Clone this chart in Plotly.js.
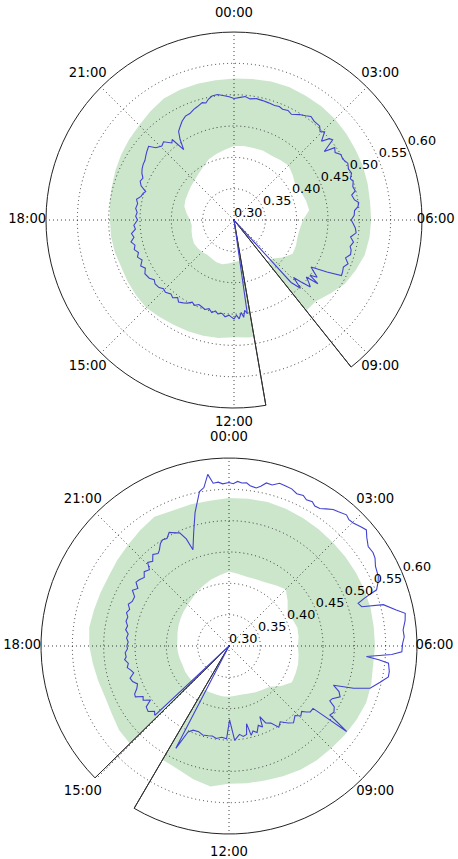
<!DOCTYPE html>
<html><head><meta charset="utf-8">
<script src="https://cdn.plot.ly/plotly-3.0.1.min.js"></script>
<style>html,body{margin:0;padding:0;background:#fff}#chart{width:458px;height:859px}</style>
</head><body><div id="chart"></div>
<script>
// ---- shared axis data ----
const hourTicks = [0, 3, 6, 9, 12, 15, 18, 21];
const hourLabels = ['00:00','03:00','06:00','09:00','12:00','15:00','18:00','21:00'];
const radialTicks = [0.30, 0.35, 0.40, 0.45, 0.50, 0.55, 0.60];
const radialRange = [0.30, 0.60];
const labelRange = [0.30, 0.64];   // wider radial range of the label layer
const radialLabelHour = 4.5;       // radial tick labels drawn along the 04:30 direction
const topHourLabelR = [0.630, 0.630, 0.622, 0.630, 0.623, 0.630, 0.630, 0.630];
const botHourLabelR = [0.632, 0.630, 0.628, 0.630, 0.630, 0.630, 0.630, 0.630];

// ---- top panel ----
const topGap = [9.43, 11.35];   // missing sector [start, end] in hours (clockwise)
const topBandHours = [11.35, 11.5, 12, 12.5, 13, 13.5, 14, 14.5, 15, 15.5, 16, 16.5, 17, 17.5, 18, 18.5, 19, 19.5, 20, 20.5, 21, 21.5, 22, 22.5, 23, 23.5,
  0, 0.5, 1, 1.5, 2, 2.5, 3, 3.5, 4, 4.5, 5, 5.5, 6, 6.5, 7, 7.5, 8, 8.5, 9, 9.43];
const topBandUpper = [0.488, 0.489, 0.487, 0.490, 0.491, 0.492, 0.493, 0.495, 0.498, 0.497, 0.496, 0.495, 0.497, 0.498, 0.498, 0.500, 0.502, 0.505, 0.508, 0.511, 0.514, 0.519, 0.524, 0.525, 0.525, 0.525,
  0.526, 0.527, 0.529, 0.530, 0.529, 0.529, 0.528, 0.526, 0.524, 0.523, 0.521, 0.519, 0.519, 0.518, 0.516, 0.510, 0.504, 0.493, 0.484, 0.485];
const topBandLower = [0.368, 0.366, 0.367, 0.370, 0.373, 0.373, 0.371, 0.370, 0.372, 0.373, 0.374, 0.372, 0.370, 0.368, 0.370, 0.376, 0.382, 0.384, 0.385, 0.387, 0.389, 0.393, 0.398, 0.405, 0.409, 0.413,
  0.418, 0.419, 0.419, 0.420, 0.419, 0.421, 0.423, 0.418, 0.413, 0.416, 0.419, 0.421, 0.410, 0.406, 0.405, 0.407, 0.408, 0.398, 0.387, 0.385];
const topLineHours = [11.35, 11.46, 11.55, 11.62, 11.7, 11.8, 11.9, 12.0, 12.1, 12.2, 12.35, 12.5, 12.65, 12.77, 12.9, 13.05, 13.2, 13.33, 13.5, 13.65, 13.8, 13.95,
  14.1, 14.27, 14.4, 14.55, 14.7, 14.9, 15.05, 15.2, 15.4, 15.55, 15.7, 15.93, 16.1, 16.25, 16.43, 16.6, 16.75, 16.9, 17.05, 17.2, 17.35, 17.5, 17.65, 17.8,
  18.0, 18.15, 18.3, 18.45, 18.64, 18.8, 18.95, 19.1, 19.19, 19.35, 19.5, 19.65, 19.8, 19.95, 20.1, 20.25, 20.4, 20.55, 20.72, 20.85, 21.05, 21.2, 21.41, 21.5,
  21.63, 21.75, 21.87, 22.0, 22.15, 22.33, 22.5, 22.67, 22.8, 22.99, 23.1, 23.2, 23.33, 23.5, 23.7, 23.85,
  0.0, 0.2, 0.35, 0.5, 0.7, 0.9, 1.1, 1.3, 1.45, 1.58, 1.75, 1.9, 2.12, 2.3, 2.44, 2.6, 2.82, 2.95, 3.05, 3.2, 3.3, 3.39, 3.52, 3.62, 3.75, 3.9, 4.05, 4.23,
  4.4, 4.55, 4.7, 4.8, 4.95, 5.1, 5.2, 5.37, 5.47, 5.59, 5.7, 5.85, 6.0, 6.1, 6.25, 6.4, 6.55, 6.7, 6.85, 6.96, 7.1, 7.25, 7.4, 7.55, 7.7, 7.82, 7.95, 8.09,
  8.2, 8.3, 8.4, 8.48, 8.55, 8.65, 8.75, 8.85, 8.93, 9.05, 9.17, 9.43];
const topLineValues = [0.300, 0.451, 0.445, 0.456, 0.448, 0.458, 0.452, 0.458, 0.455, 0.452, 0.455, 0.450, 0.452, 0.448, 0.452, 0.447, 0.450, 0.448, 0.446, 0.450, 0.447, 0.452,
  0.455, 0.458, 0.453, 0.458, 0.455, 0.459, 0.457, 0.461, 0.462, 0.459, 0.464, 0.466, 0.461, 0.466, 0.460, 0.465, 0.461, 0.466, 0.463, 0.468, 0.462, 0.465, 0.458, 0.460,
  0.454, 0.457, 0.455, 0.458, 0.456, 0.459, 0.453, 0.451, 0.448, 0.458, 0.462, 0.460, 0.465, 0.468, 0.470, 0.471, 0.474, 0.477, 0.480, 0.470, 0.465, 0.468, 0.458, 0.462,
  0.438, 0.455, 0.467, 0.472, 0.478, 0.483, 0.484, 0.488, 0.490, 0.494, 0.492, 0.497, 0.501, 0.502, 0.499, 0.497,
  0.494, 0.496, 0.498, 0.495, 0.497, 0.496, 0.495, 0.494, 0.495, 0.493, 0.495, 0.492, 0.498, 0.502, 0.506, 0.503, 0.503, 0.497, 0.502, 0.488, 0.500, 0.503, 0.481, 0.498, 0.494, 0.500, 0.499, 0.503,
  0.500, 0.502, 0.497, 0.500, 0.497, 0.499, 0.492, 0.495, 0.501, 0.499, 0.493, 0.492, 0.487, 0.490, 0.494, 0.496, 0.488, 0.494, 0.490, 0.493, 0.494, 0.488, 0.495, 0.490, 0.492, 0.493, 0.470, 0.444,
  0.452, 0.461, 0.450, 0.468, 0.447, 0.455, 0.462, 0.445, 0.432, 0.452, 0.435, 0.300];

// ---- bottom panel ----
const botGap = [14.02, 15.03];
const botBandHours = [15.03, 15.5, 16, 16.5, 17, 17.5, 18, 18.5, 19, 19.5, 20, 20.5, 21, 21.5, 22, 22.5, 23, 23.5,
  0, 0.5, 1, 1.5, 2, 2.5, 3, 3.5, 4, 4.5, 5, 5.5, 6, 6.5, 7, 7.5, 8, 8.5, 9, 9.5, 10, 10.5, 11, 11.5, 12, 12.5, 13, 13.5, 14.02];
const botBandUpper = [0.522, 0.521, 0.516, 0.514, 0.516, 0.519, 0.523, 0.525, 0.523, 0.522, 0.522, 0.525, 0.528, 0.533, 0.538, 0.534, 0.534, 0.534,
  0.536, 0.537, 0.538, 0.537, 0.536, 0.535, 0.534, 0.534, 0.534, 0.534, 0.534, 0.533, 0.533, 0.532, 0.535, 0.537, 0.535, 0.533, 0.531, 0.530, 0.528, 0.525, 0.522, 0.521, 0.520, 0.526, 0.520, 0.513, 0.510];
const botBandLower = [0.381, 0.381, 0.381, 0.380, 0.381, 0.382, 0.383, 0.383, 0.385, 0.387, 0.389, 0.391, 0.393, 0.396, 0.401, 0.405, 0.410, 0.414,
  0.419, 0.416, 0.414, 0.415, 0.417, 0.422, 0.428, 0.418, 0.408, 0.410, 0.413, 0.412, 0.410, 0.412, 0.414, 0.415, 0.416, 0.405, 0.392, 0.388, 0.385, 0.382, 0.380, 0.380, 0.381, 0.381, 0.380, 0.380, 0.380];
const botLineHours = [15.03, 15.13, 15.25, 15.4, 15.58, 15.7, 15.85, 15.97, 16.1, 16.2, 16.35, 16.5, 16.65, 16.8, 16.95, 17.07, 17.2, 17.35, 17.5, 17.6, 17.75, 17.9,
  18.0, 18.15, 18.3, 18.45, 18.6, 18.75, 18.9, 19.07, 19.2, 19.35, 19.5, 19.65, 19.84, 20.0, 20.15, 20.3, 20.43, 20.6, 20.75, 20.92, 21.05, 21.2, 21.35, 21.5,
  21.6, 21.75, 21.87, 22.0, 22.15, 22.3, 22.43, 22.55, 22.63, 22.85, 23.05, 23.28, 23.4, 23.53, 23.63, 23.75, 23.85,
  0.0, 0.1, 0.2, 0.3, 0.41, 0.5, 0.65, 0.75, 0.86, 1.0, 1.15, 1.3, 1.45, 1.6, 1.75, 1.86, 2.0, 2.1, 2.23, 2.35, 2.49, 2.6, 2.79, 2.9, 3.02, 3.2, 3.32, 3.45,
  3.63, 3.8, 3.93, 4.1, 4.33, 4.45, 4.61, 4.7, 4.78, 4.9, 5.0, 5.19, 5.3, 5.45, 5.65, 5.8, 5.95, 6.13, 6.2, 6.29, 6.35, 6.41, 6.6, 6.73, 6.9, 7.11, 7.25, 7.37,
  7.5, 7.64, 7.8, 7.9, 8.0, 8.15, 8.29, 8.4, 8.44, 8.6, 8.7, 8.8, 8.95, 9.1, 9.33, 9.5, 9.73, 9.9, 10.1, 10.3, 10.43, 10.5, 10.65, 10.8, 10.95, 11.07, 11.15,
  11.25, 11.4, 11.55, 11.77, 11.97, 12.1, 12.3, 12.52, 12.7, 12.87, 13.1, 13.3, 13.54, 13.7, 13.83, 14.02];
const botLineValues = [0.300, 0.462, 0.458, 0.466, 0.464, 0.452, 0.462, 0.459, 0.470, 0.469, 0.462, 0.458, 0.464, 0.466, 0.458, 0.461, 0.466, 0.463, 0.468, 0.465, 0.466, 0.462,
  0.463, 0.461, 0.464, 0.462, 0.467, 0.465, 0.469, 0.468, 0.472, 0.469, 0.474, 0.470, 0.470, 0.478, 0.472, 0.480, 0.478, 0.474, 0.480, 0.476, 0.486, 0.482, 0.490, 0.486,
  0.489, 0.497, 0.500, 0.498, 0.505, 0.500, 0.497, 0.484, 0.464, 0.490, 0.520, 0.551, 0.556, 0.576, 0.561, 0.562, 0.559,
  0.561, 0.559, 0.563, 0.561, 0.562, 0.558, 0.556, 0.560, 0.567, 0.566, 0.572, 0.571, 0.570, 0.566, 0.568, 0.564, 0.566, 0.562, 0.563, 0.568, 0.574, 0.576, 0.581, 0.578, 0.579, 0.584, 0.587, 0.580,
  0.573, 0.574, 0.572, 0.566, 0.563, 0.559, 0.552, 0.530, 0.517, 0.521, 0.555, 0.573, 0.586, 0.584, 0.579, 0.580, 0.577, 0.576, 0.560, 0.520, 0.540, 0.556, 0.559, 0.559, 0.548, 0.535, 0.510, 0.478,
  0.490, 0.495, 0.485, 0.483, 0.494, 0.498, 0.495, 0.532, 0.467, 0.467, 0.462, 0.456, 0.460, 0.453, 0.460, 0.455, 0.446, 0.452, 0.440, 0.436, 0.423, 0.440, 0.435, 0.445, 0.441, 0.447, 0.427,
  0.444, 0.446, 0.442, 0.451, 0.418, 0.448, 0.446, 0.449, 0.446, 0.447, 0.448, 0.445, 0.446, 0.452, 0.484, 0.300];

// ---- styling ----
const FONT = 'DejaVu Sans, Liberation Sans, sans-serif';
const deg = h => h * 15;
const bandFill = 'rgba(0,128,0,0.2)';
const lineBlue = 'rgb(65,65,210)';
const gridCol = 'rgba(0,0,0,0.75)';
const gridDash = '1px,3px';

function panel(base, over, lab, gap, bHours, bUp, bLow, lHours, lVals, hourR) {
  const traces = [];
  traces.push({
    type: 'scatterpolar', subplot: base, mode: 'lines',
    theta: bHours.map(deg).concat(bHours.slice().reverse().map(deg)),
    r: bUp.concat(bLow.slice().reverse()),
    fill: 'toself', fillcolor: bandFill, line: {width: 0, color: 'rgba(0,0,0,0)'},
    hoverinfo: 'skip', showlegend: false
  });
  traces.push({
    type: 'scatterpolar', subplot: over, mode: 'lines',
    theta: [deg(gap[0]), deg(gap[0]), deg(gap[1])],
    r: [radialRange[1], radialRange[0], radialRange[1]],
    line: {color: '#333', width: 1}, hoverinfo: 'skip', showlegend: false, cliponaxis: false
  });
  traces.push({
    type: 'scatterpolar', subplot: over, mode: 'lines',
    theta: lHours.map(deg), r: lVals,
    line: {color: lineBlue, width: 1.1}, hoverinfo: 'skip', showlegend: false
  });
  // radial tick labels
  traces.push({
    type: 'scatterpolar', subplot: over, mode: 'text',
    theta: radialTicks.map(() => deg(radialLabelHour)), r: radialTicks,
    text: radialTicks.map(v => v.toFixed(2)), textposition: 'top right',
    textfont: {family: FONT, size: 12.8, color: '#000'},
    cliponaxis: false, hoverinfo: 'skip', showlegend: false
  });
  // hour labels (on a wider label layer so they sit outside the outer circle)
  traces.push({
    type: 'scatterpolar', subplot: lab, mode: 'text',
    theta: hourTicks.map(deg), r: hourR,
    text: hourLabels, textposition: 'middle center',
    textfont: {family: FONT, size: 13.2, color: '#000'},
    cliponaxis: false, hoverinfo: 'skip', showlegend: false
  });
  return traces;
}

function sectorFor(gap) {
  return [90 - deg(gap[0]), 90 - deg(gap[1]) + 360];
}

function basePolar(domain, gap) {
  return {
    domain: domain, bgcolor: 'rgba(0,0,0,0)', sector: sectorFor(gap),
    angularaxis: {direction: 'clockwise', rotation: 90, thetaunit: 'degrees',
      showline: true, linecolor: '#222', linewidth: 1, showgrid: false, showticklabels: false, ticks: ''},
    radialaxis: {range: radialRange, showline: false, showgrid: false, showticklabels: false, ticks: ''}
  };
}
function overPolar(domain) {
  return {
    domain: domain, bgcolor: 'rgba(0,0,0,0)',
    angularaxis: {direction: 'clockwise', rotation: 90, thetaunit: 'degrees',
      tickmode: 'array', tickvals: hourTicks.map(deg), ticktext: hourLabels, showticklabels: false,
      showline: false, showgrid: true, gridcolor: gridCol, gridwidth: 1, griddash: gridDash, ticks: ''},
    radialaxis: {range: radialRange, angle: 22.5,
      tickmode: 'array', tickvals: radialTicks, showticklabels: false,
      showline: false, showgrid: true, gridcolor: gridCol, gridwidth: 1, griddash: gridDash, ticks: ''}
  };
}
function labelPolar(domain) {
  return {
    domain: domain, bgcolor: 'rgba(0,0,0,0)',
    angularaxis: {direction: 'clockwise', rotation: 90, thetaunit: 'degrees',
      showline: false, showgrid: false, showticklabels: false, ticks: ''},
    radialaxis: {range: labelRange, showline: false, showgrid: false, showticklabels: false, ticks: ''}
  };
}

const topDom = {x: [0.1004, 0.9214], y: [0.5250, 0.9627]};
const botDom = {x: [0.0895, 0.9105], y: [0.0291, 0.4668]};
const topLabDom = {x: [0.0457, 0.9761], y: [0.49585, 0.99193]};
const botLabDom = {x: [0.03478, 0.96522], y: [0.0, 0.49601]};

const data = [].concat(
  panel('polar', 'polar2', 'polar5', topGap, topBandHours, topBandUpper, topBandLower, topLineHours, topLineValues, topHourLabelR),
  panel('polar3', 'polar4', 'polar6', botGap, botBandHours, botBandUpper, botBandLower, botLineHours, botLineValues, botHourLabelR)
);

const layout = {
  width: 458, height: 859, margin: {l: 0, r: 0, t: 0, b: 0},
  paper_bgcolor: '#fff', showlegend: false,
  font: {family: FONT, size: 12.5, color: '#000'},
  polar: basePolar(topDom, topGap),
  polar2: overPolar(topDom),
  polar3: basePolar(botDom, botGap),
  polar4: overPolar(botDom),
  polar5: labelPolar(topLabDom),
  polar6: labelPolar(botLabDom)
};

Plotly.newPlot('chart', data, layout, {staticPlot: true, displayModeBar: false});
</script>
</body></html>
